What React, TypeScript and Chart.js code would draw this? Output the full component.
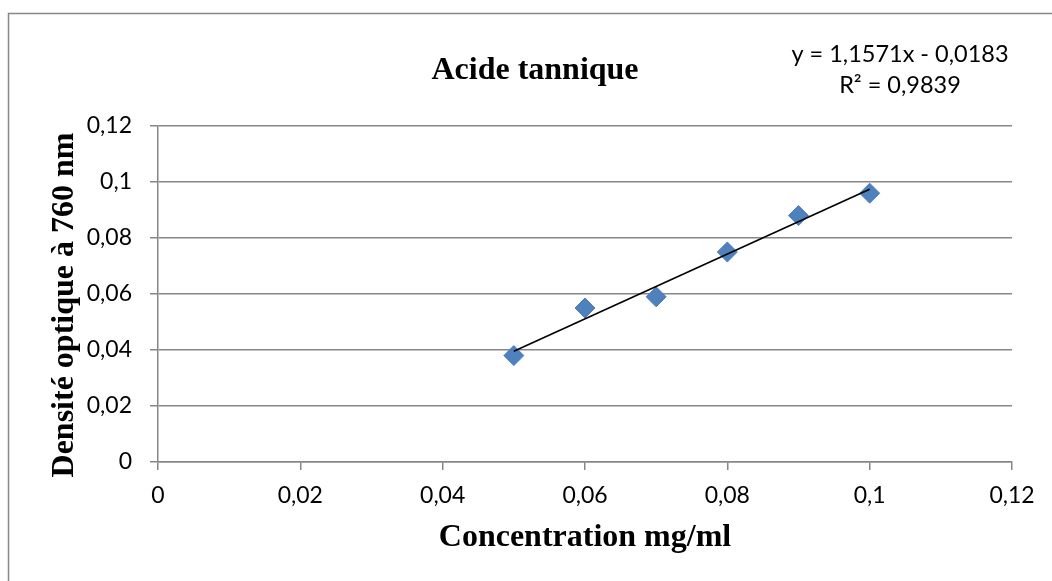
import React, { useEffect, useRef } from "react";
import { Chart, registerables } from "chart.js";

Chart.register(...registerables);

// Concentration (mg/ml) and measured optical density at 760 nm
const concentrations = [0.05, 0.06, 0.07, 0.08, 0.09, 0.1];
const absorbances = [0.038, 0.055, 0.059, 0.075, 0.088, 0.096];

// Linear fit reported on the chart
const fitSlope = 1.1571;
const fitIntercept = -0.0183;
const fitLabel = ["y = 1,1571x - 0,0183", "R² = 0,9839"];

// Axis ticks
const xTickValues = [0, 0.02, 0.04, 0.06, 0.08, 0.1, 0.12];
const xTickLabels = ["0", "0,02", "0,04", "0,06", "0,08", "0,1", "0,12"];
const yTickValues = [0, 0.02, 0.04, 0.06, 0.08, 0.1, 0.12];
const yTickLabels = ["0", "0,02", "0,04", "0,06", "0,08", "0,1", "0,12"];

const chartTitle = "Acide tannique";
const xTitle = "Concentration mg/ml";
const yTitle = "Densité optique à 760 nm";

const GRID = "#878787";
const SERIF = "'Liberation Serif', 'Times New Roman', serif";
const SANS = "Lato, 'Open Sans', sans-serif";

const textPlugin = {
  id: "chartText",
  afterDraw(chart: any) {
    const ctx: CanvasRenderingContext2D = chart.ctx;
    const area = chart.chartArea;
    ctx.save();

    // frame around the chart
    ctx.strokeStyle = GRID;
    ctx.lineWidth = 1.5;
    ctx.beginPath();
    ctx.moveTo(8.5, chart.height + 2);
    ctx.lineTo(8.5, 13.5);
    ctx.lineTo(chart.width + 2, 13.5);
    ctx.stroke();

    ctx.fillStyle = "#000";

    // main title
    ctx.font = `bold 32px ${SERIF}`;
    ctx.textAlign = "center";
    ctx.textBaseline = "alphabetic";
    ctx.fillText(chartTitle, 535, 79);

    // x axis title
    ctx.fillText(xTitle, (area.left + area.right) / 2, 546);

    // y axis title
    ctx.save();
    ctx.translate(73, 305);
    ctx.rotate(-Math.PI / 2);
    ctx.fillText(yTitle, 0, 0);
    ctx.restore();

    // regression equation
    ctx.font = `23.5px ${SANS}`;
    ctx.fillText(fitLabel[0], 900, 62);
    ctx.fillText(fitLabel[1], 900, 93);

    ctx.restore();
  },
};

export default function App() {
  const canvasRef = useRef<HTMLCanvasElement | null>(null);

  useEffect(() => {
    if (!canvasRef.current) return;
    const xMin = concentrations[0];
    const xMax = concentrations[concentrations.length - 1];
    const trend = [
      { x: xMin, y: fitSlope * xMin + fitIntercept },
      { x: xMax, y: fitSlope * xMax + fitIntercept },
    ];

    const chart = new Chart(canvasRef.current, {
      type: "scatter",
      data: {
        datasets: [
          {
            type: "line",
            label: "Linéaire",
            data: trend,
            borderColor: "#000",
            borderWidth: 1.6,
            pointRadius: 0,
            fill: false,
            order: 0,
          },
          {
            label: "Acide tannique",
            data: concentrations.map((x, i) => ({ x, y: absorbances[i] })),
            pointStyle: "rectRot",
            pointRadius: 10,
            backgroundColor: "#4F81BD",
            borderColor: "#4A7EBB",
            borderWidth: 1,
            order: 1,
          },
        ],
      },
      options: {
        animation: false,
        responsive: false,
        events: [],
        layout: { padding: { top: 126, right: 40, left: 0, bottom: 0 } },
        plugins: {
          legend: { display: false },
          tooltip: { enabled: false },
          title: { display: false },
        },
        scales: {
          x: {
            type: "linear",
            min: 0,
            max: 0.12,
            afterFit: (s: any) => {
              s.height = 119;
            },
            afterBuildTicks: (s: any) => {
              s.ticks = xTickValues.map((v) => ({ value: v }));
            },
            grid: {
              drawOnChartArea: false,
              color: GRID,
              lineWidth: 1.5,
              tickLength: 8,
            },
            border: { color: GRID, width: 1.5 },
            ticks: {
              padding: 12,
              color: "#000",
              font: { family: SANS, size: 23 },
              maxRotation: 0,
              callback: (_v: any, i: number) => xTickLabels[i],
            },
          },
          y: {
            type: "linear",
            min: 0,
            max: 0.12,
            afterFit: (s: any) => {
              s.width = 158;
            },
            afterBuildTicks: (s: any) => {
              s.ticks = yTickValues.map((v) => ({ value: v }));
            },
            grid: {
              color: GRID,
              lineWidth: 1.5,
              tickLength: 8,
            },
            border: { color: GRID, width: 1.5 },
            ticks: {
              padding: 18,
              color: "#000",
              font: { family: SANS, size: 23 },
              callback: (_v: any, i: number) => yTickLabels[i],
            },
          },
        },
      },
      plugins: [textPlugin],
    } as any);

    return () => chart.destroy();
  }, []);

  return (
    <div style={{ position: "fixed", left: 0, top: 0, width: 1052, height: 581, background: "#fff" }}>
      <canvas ref={canvasRef} width={1052} height={581} />
    </div>
  );
}
